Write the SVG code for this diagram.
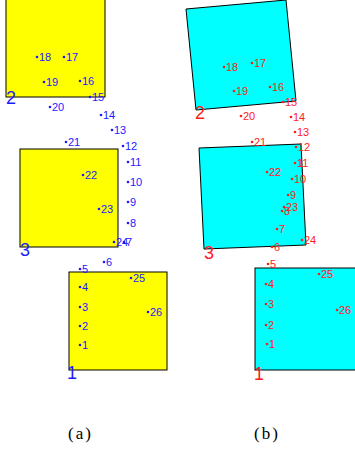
<svg xmlns="http://www.w3.org/2000/svg" width="355" height="451" viewBox="0 0 355 451">
<style>
.ya{fill:#ffff00;stroke:#000;stroke-width:1}
.cb{fill:#00ffff;stroke:#000;stroke-width:1}
.a{fill:#1a1aff;font-family:"Liberation Sans",Arial,sans-serif;font-size:11px}
.b{fill:#ff1a1a;font-family:"Liberation Sans",Arial,sans-serif;font-size:11px}
.la{fill:#1a1aff;font-family:"Liberation Sans",Arial,sans-serif;font-size:18px}
.lb{fill:#ff1a1a;font-family:"Liberation Sans",Arial,sans-serif;font-size:18px}
.cap{fill:#000;font-family:"Liberation Serif","Times New Roman",serif;font-size:17px;letter-spacing:2px}
</style>
<rect width="355" height="451" fill="#fff"/>
<g id="panel-a">
<g id="a-box2"><rect class="ya" x="6" y="-2" width="99" height="99"/><text class="la" x="6" y="104">2</text></g>
<g id="a-box3"><rect class="ya" x="20" y="149" width="98" height="98"/><text class="la" x="20" y="256">3</text></g>
<g id="a-box1"><rect class="ya" x="69" y="272" width="98" height="98"/><text class="la" x="67" y="379">1</text></g>
<g id="a-points" class="a">
<circle cx="37" cy="57" r="1.3"/><text x="39" y="61">18</text>
<circle cx="64" cy="57" r="1.3"/><text x="66" y="61">17</text>
<circle cx="44" cy="82" r="1.3"/><text x="46" y="86">19</text>
<circle cx="80" cy="81" r="1.3"/><text x="82" y="85">16</text>
<circle cx="90" cy="97" r="1.3"/><text x="92" y="101">15</text>
<circle cx="50" cy="107" r="1.3"/><text x="52" y="111">20</text>
<circle cx="101" cy="115" r="1.3"/><text x="103" y="119">14</text>
<circle cx="112" cy="130" r="1.3"/><text x="114" y="134">13</text>
<circle cx="123" cy="146" r="1.3"/><text x="125" y="150">12</text>
<circle cx="66" cy="142" r="1.3"/><text x="68" y="146">21</text>
<circle cx="128" cy="162" r="1.3"/><text x="130" y="166">11</text>
<circle cx="128" cy="182" r="1.3"/><text x="130" y="186">10</text>
<circle cx="128" cy="202" r="1.3"/><text x="130" y="206">9</text>
<circle cx="128" cy="223" r="1.3"/><text x="130" y="227">8</text>
<circle cx="99" cy="209" r="1.3"/><text x="101" y="213">23</text>
<circle cx="83" cy="175" r="1.3"/><text x="85" y="179">22</text>
<circle cx="114" cy="242" r="1.3"/><text x="116" y="246">24</text>
<circle cx="124" cy="242" r="1.3"/><text x="126" y="246">7</text>
<circle cx="80" cy="269" r="1.3"/><text x="82" y="273">5</text>
<circle cx="104" cy="262" r="1.3"/><text x="106" y="266">6</text>
<circle cx="80" cy="287" r="1.3"/><text x="82" y="291">4</text>
<circle cx="80" cy="307" r="1.3"/><text x="82" y="311">3</text>
<circle cx="80" cy="326" r="1.3"/><text x="82" y="330">2</text>
<circle cx="80" cy="345" r="1.3"/><text x="82" y="349">1</text>
<circle cx="131" cy="278" r="1.3"/><text x="133" y="282">25</text>
<circle cx="148" cy="312" r="1.3"/><text x="150" y="316">26</text>
</g>
</g>
<g id="panel-b">
<g id="b-box2"><polygon class="cb" points="186,9 286,0 296,101 196,110"/><text class="lb" x="195" y="119">2</text></g>
<g id="b-box3"><polygon class="cb" points="199,148 301,144 306,245 204,249"/><text class="lb" x="204" y="259">3</text></g>
<g id="b-box1"><rect class="cb" x="255" y="268" width="110" height="102"/><text class="lb" x="254" y="380">1</text></g>
<g id="b-points" class="b">
<circle cx="224" cy="67" r="1.3"/><text x="226" y="71">18</text>
<circle cx="252" cy="63" r="1.3"/><text x="254" y="67">17</text>
<circle cx="234" cy="91" r="1.3"/><text x="236" y="95">19</text>
<circle cx="270" cy="87" r="1.3"/><text x="272" y="91">16</text>
<circle cx="283" cy="102" r="1.3"/><text x="285" y="106">15</text>
<circle cx="241" cy="116" r="1.3"/><text x="243" y="120">20</text>
<circle cx="291" cy="117" r="1.3"/><text x="293" y="121">14</text>
<circle cx="295" cy="132" r="1.3"/><text x="297" y="136">13</text>
<circle cx="296" cy="147" r="1.3"/><text x="298" y="151">12</text>
<circle cx="252" cy="142" r="1.3"/><text x="254" y="146">21</text>
<circle cx="295" cy="163" r="1.3"/><text x="297" y="167">11</text>
<circle cx="267" cy="172" r="1.3"/><text x="269" y="176">22</text>
<circle cx="292" cy="179" r="1.3"/><text x="294" y="183">10</text>
<circle cx="288" cy="195" r="1.3"/><text x="290" y="199">9</text>
<circle cx="284" cy="207" r="1.3"/><text x="286" y="211">23</text>
<circle cx="282" cy="211" r="1.3"/><text x="284" y="215">8</text>
<circle cx="277" cy="229" r="1.3"/><text x="279" y="233">7</text>
<circle cx="272" cy="247" r="1.3"/><text x="274" y="251">6</text>
<circle cx="302" cy="240" r="1.3"/><text x="304" y="244">24</text>
<circle cx="268" cy="264" r="1.3"/><text x="270" y="268">5</text>
<circle cx="266" cy="284" r="1.3"/><text x="268" y="288">4</text>
<circle cx="266" cy="304" r="1.3"/><text x="268" y="308">3</text>
<circle cx="266" cy="325" r="1.3"/><text x="268" y="329">2</text>
<circle cx="267" cy="344" r="1.3"/><text x="269" y="348">1</text>
<circle cx="319" cy="274" r="1.3"/><text x="321" y="278">25</text>
<circle cx="337" cy="310" r="1.3"/><text x="339" y="314">26</text>
</g>
</g>
<g id="connectors"></g>
<g id="captions">
<text class="cap" x="68" y="439">(a)</text>
<text class="cap" x="254" y="439">(b)</text>
</g>
</svg>
